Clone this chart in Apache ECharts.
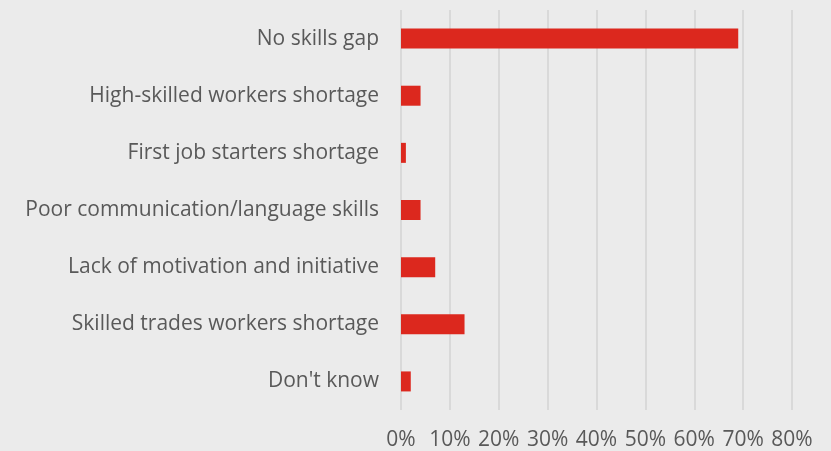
<!DOCTYPE html>
<html><head><meta charset="utf-8">
<script src="https://cdn.jsdelivr.net/npm/echarts@6/dist/echarts.min.js"></script>
<style>html,body{margin:0;padding:0;background:#ebebeb;}#c{width:831px;height:451px;}</style>
</head><body><div id="c"></div>
<script>
const categories = ["No skills gap","High-skilled workers shortage","First job starters shortage","Poor communication/language skills","Lack of motivation and initiative","Skilled trades workers shortage","Don't know"];
const values = [69,4,1,4,7,13,2];
const xTicks = [0,10,20,30,40,50,60,70,80];
const chart = echarts.init(document.getElementById('c'));
chart.setOption({
  backgroundColor:'#ebebeb',
  animation:false,
  grid:{left:401,right:39,top:10,bottom:41},
  xAxis:{type:'value',min:0,max:80,interval:10,
    axisLine:{show:false},axisTick:{show:false},
    splitLine:{lineStyle:{color:'#d9d9d9',width:2}},
    axisLabel:{formatter:v=>v+'%',color:'#595959',fontSize:21,fontFamily:'Open Sans',margin:20}},
  yAxis:{type:'category',inverse:true,data:categories,
    axisLine:{show:false},axisTick:{show:false},
    axisLabel:{color:'#595959',fontSize:21,fontFamily:'Open Sans',margin:22}},
  series:[{type:'bar',data:values,barWidth:20,itemStyle:{color:'#dc281e'}}]
});
</script></body></html>
